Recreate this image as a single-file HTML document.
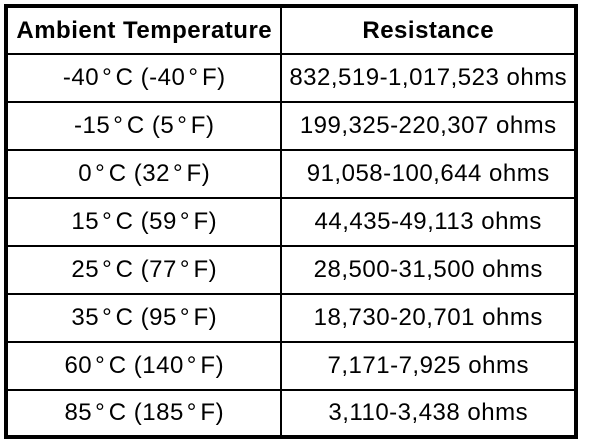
<!DOCTYPE html>
<html>
<head>
<meta charset="utf-8">
<style>
  html, body { margin:0; padding:0; background:#fff; }
  body { width:608px; height:444px; position:relative; overflow:hidden;
         font-family:"Liberation Sans", Arial, Helvetica, sans-serif; color:#000; }
  .box { position:absolute; left:4px; top:4px; width:566px; height:427px; border:4px solid #000; }
  .v { position:absolute; left:280px; top:8px; width:2px; height:427px; background:#000; }
  .h { position:absolute; left:8px; width:566px; height:2px; background:#000; }
  .cell { position:absolute; display:flex; align-items:center; justify-content:center;
          white-space:nowrap; font-size:24px; letter-spacing:0.5px; padding-left:0.5px; box-sizing:border-box; }
  .c1 { left:8px; width:272px; }
  .c2 { left:282px; width:292px; }
  .hd { font-weight:bold; letter-spacing:0.5px; padding-left:0.5px; }
  .d { display:inline-block; padding:0 3.5px 0 3px; }
</style>
</head>
<body>
<div class="box"></div>
<div class="v"></div>
<div class="h" style="top:53px"></div>
<div class="h" style="top:101px"></div>
<div class="h" style="top:149px"></div>
<div class="h" style="top:197px"></div>
<div class="h" style="top:245px"></div>
<div class="h" style="top:293px"></div>
<div class="h" style="top:341px"></div>
<div class="h" style="top:389px"></div>

<div class="cell c1 hd" style="top:8px;height:45px">Ambient Temperature</div>
<div class="cell c2 hd" style="top:8px;height:45px">Resistance</div>

<div class="cell c1" style="top:55px;height:46px">-40<span class="d">°</span>C (-40<span class="d">°</span>F)</div>
<div class="cell c2" style="top:55px;height:46px">832,519-1,017,523 ohms</div>

<div class="cell c1" style="top:103px;height:46px">-15<span class="d">°</span>C (5<span class="d">°</span>F)</div>
<div class="cell c2" style="top:103px;height:46px">199,325-220,307 ohms</div>

<div class="cell c1" style="top:151px;height:46px">0<span class="d">°</span>C (32<span class="d">°</span>F)</div>
<div class="cell c2" style="top:151px;height:46px">91,058-100,644 ohms</div>

<div class="cell c1" style="top:199px;height:46px">15<span class="d">°</span>C (59<span class="d">°</span>F)</div>
<div class="cell c2" style="top:199px;height:46px">44,435-49,113 ohms</div>

<div class="cell c1" style="top:247px;height:46px">25<span class="d">°</span>C (77<span class="d">°</span>F)</div>
<div class="cell c2" style="top:247px;height:46px">28,500-31,500 ohms</div>

<div class="cell c1" style="top:295px;height:46px">35<span class="d">°</span>C (95<span class="d">°</span>F)</div>
<div class="cell c2" style="top:295px;height:46px">18,730-20,701 ohms</div>

<div class="cell c1" style="top:343px;height:46px">60<span class="d">°</span>C (140<span class="d">°</span>F)</div>
<div class="cell c2" style="top:343px;height:46px">7,171-7,925 ohms</div>

<div class="cell c1" style="top:391px;height:44px">85<span class="d">°</span>C (185<span class="d">°</span>F)</div>
<div class="cell c2" style="top:391px;height:44px">3,110-3,438 ohms</div>
</body>
</html>
